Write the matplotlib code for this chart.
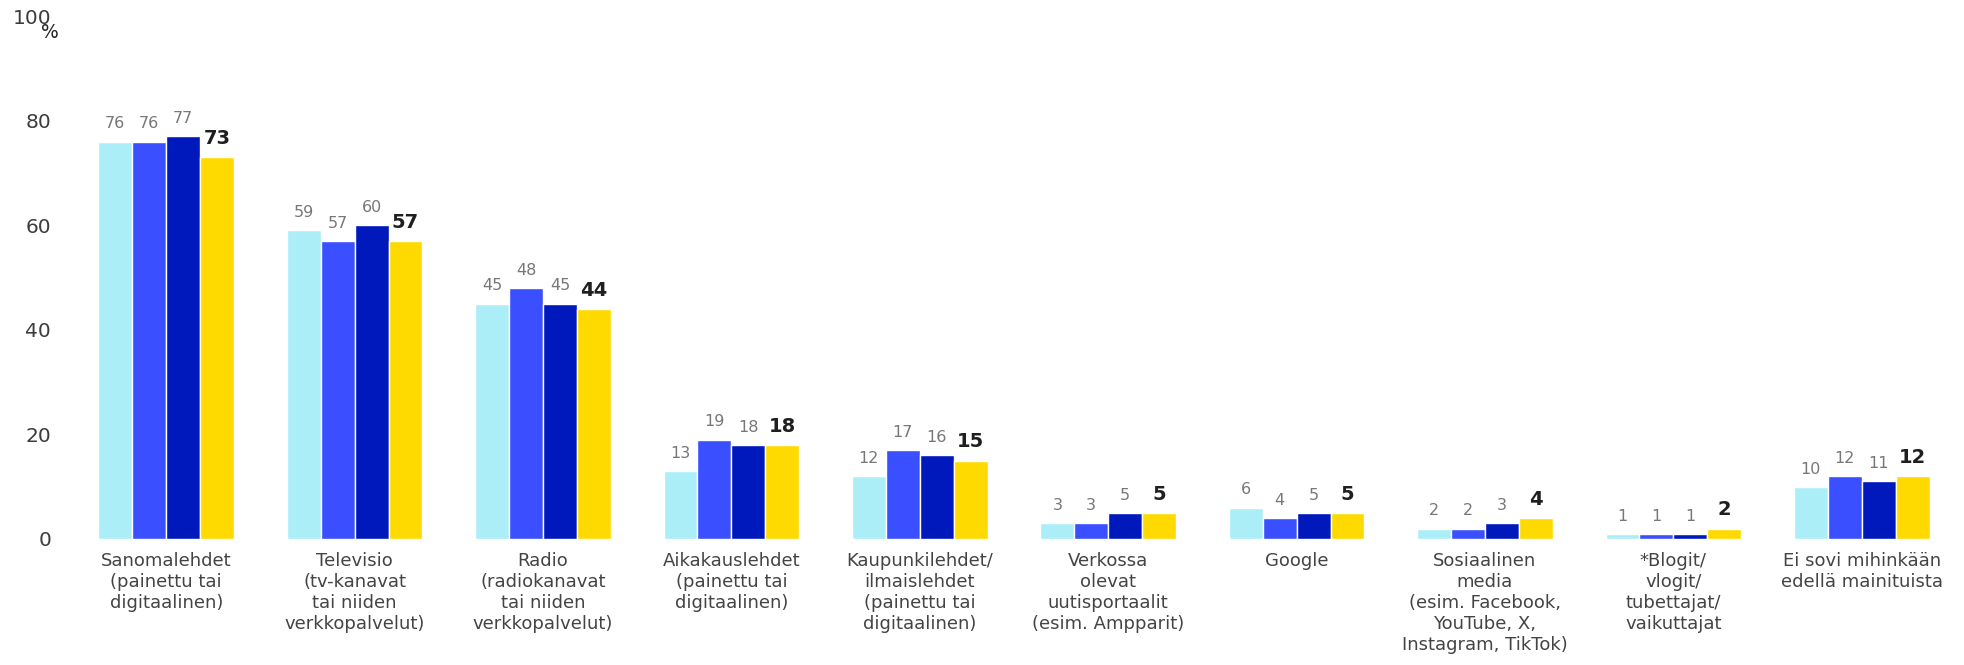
import matplotlib
matplotlib.use("Agg")
import matplotlib.pyplot as plt
import numpy as np

plt.rcParams['font.family'] = ['DejaVu Sans']

categories = [
    "Sanomalehdet\n(painettu tai\ndigitaalinen)",
    "Televisio\n(tv-kanavat\ntai niiden\nverkkopalvelut)",
    "Radio\n(radiokanavat\ntai niiden\nverkkopalvelut)",
    "Aikakauslehdet\n(painettu tai\ndigitaalinen)",
    "Kaupunkilehdet/\nilmaislehdet\n(painettu tai\ndigitaalinen)",
    "Verkossa\nolevat\nuutisportaalit\n(esim. Ampparit)",
    "Google",
    "Sosiaalinen\nmedia\n(esim. Facebook,\nYouTube, X,\nInstagram, TikTok)",
    "*Blogit/\nvlogit/\ntubettajat/\nvaikuttajat",
    "Ei sovi mihinkään\nedellä mainituista",
]
series1 = [76, 59, 45, 13, 12, 3, 6, 2, 1, 10]
series2 = [76, 57, 48, 19, 17, 3, 4, 2, 1, 12]
series3 = [77, 60, 45, 18, 16, 5, 5, 3, 1, 11]
series4 = [73, 57, 44, 18, 15, 5, 5, 4, 2, 12]
yticks = [0, 20, 40, 60, 80, 100]

colors = ["#ABEEF8", "#3A4FFF", "#0019BD", "#FFDA00"]
all_series = [series1, series2, series3, series4]

fig = plt.figure(figsize=(19.65, 6.65), dpi=100)
ax = fig.add_axes([72/1965, (665-539)/665, 1884/1965, 523/665])

x = np.arange(len(categories))
w = 0.18
for i, (vals, c) in enumerate(zip(all_series, colors)):
    xs = x + (i - 1.5) * w
    ax.bar(xs, vals, width=w, color=c, edgecolor="white", linewidth=1.0)
    for xi, v in zip(xs, vals):
        if i == 3:
            ax.annotate(str(v), (xi, v), xytext=(0, 9.5), textcoords="offset points",
                        ha="center", va="baseline", fontsize=14, fontweight="bold",
                        color="#1f1f1f")
        else:
            ax.annotate(str(v), (xi, v), xytext=(0, 9.5), textcoords="offset points",
                        ha="center", va="baseline", fontsize=11.5, color="#777777")

ax.set_xlim(-0.5, len(categories) - 0.5)
ax.set_ylim(0, 100)
ax.set_yticks(yticks)
ax.set_yticklabels([str(t) for t in yticks], fontsize=14.5, color="#3c3c3c")
ax.set_xticks(x)
ax.set_xticklabels(categories, fontsize=13, color="#444444", linespacing=1.22)
ax.tick_params(axis="both", length=0)
ax.tick_params(axis="y", pad=15)
ax.tick_params(axis="x", pad=9)
for s in ax.spines.values():
    s.set_visible(False)

fig.text(50/1965, 1 - 32/665, "%", ha="center", va="center", fontsize=13.5, color="#222222")

fig.savefig("out.png", dpi=100)
